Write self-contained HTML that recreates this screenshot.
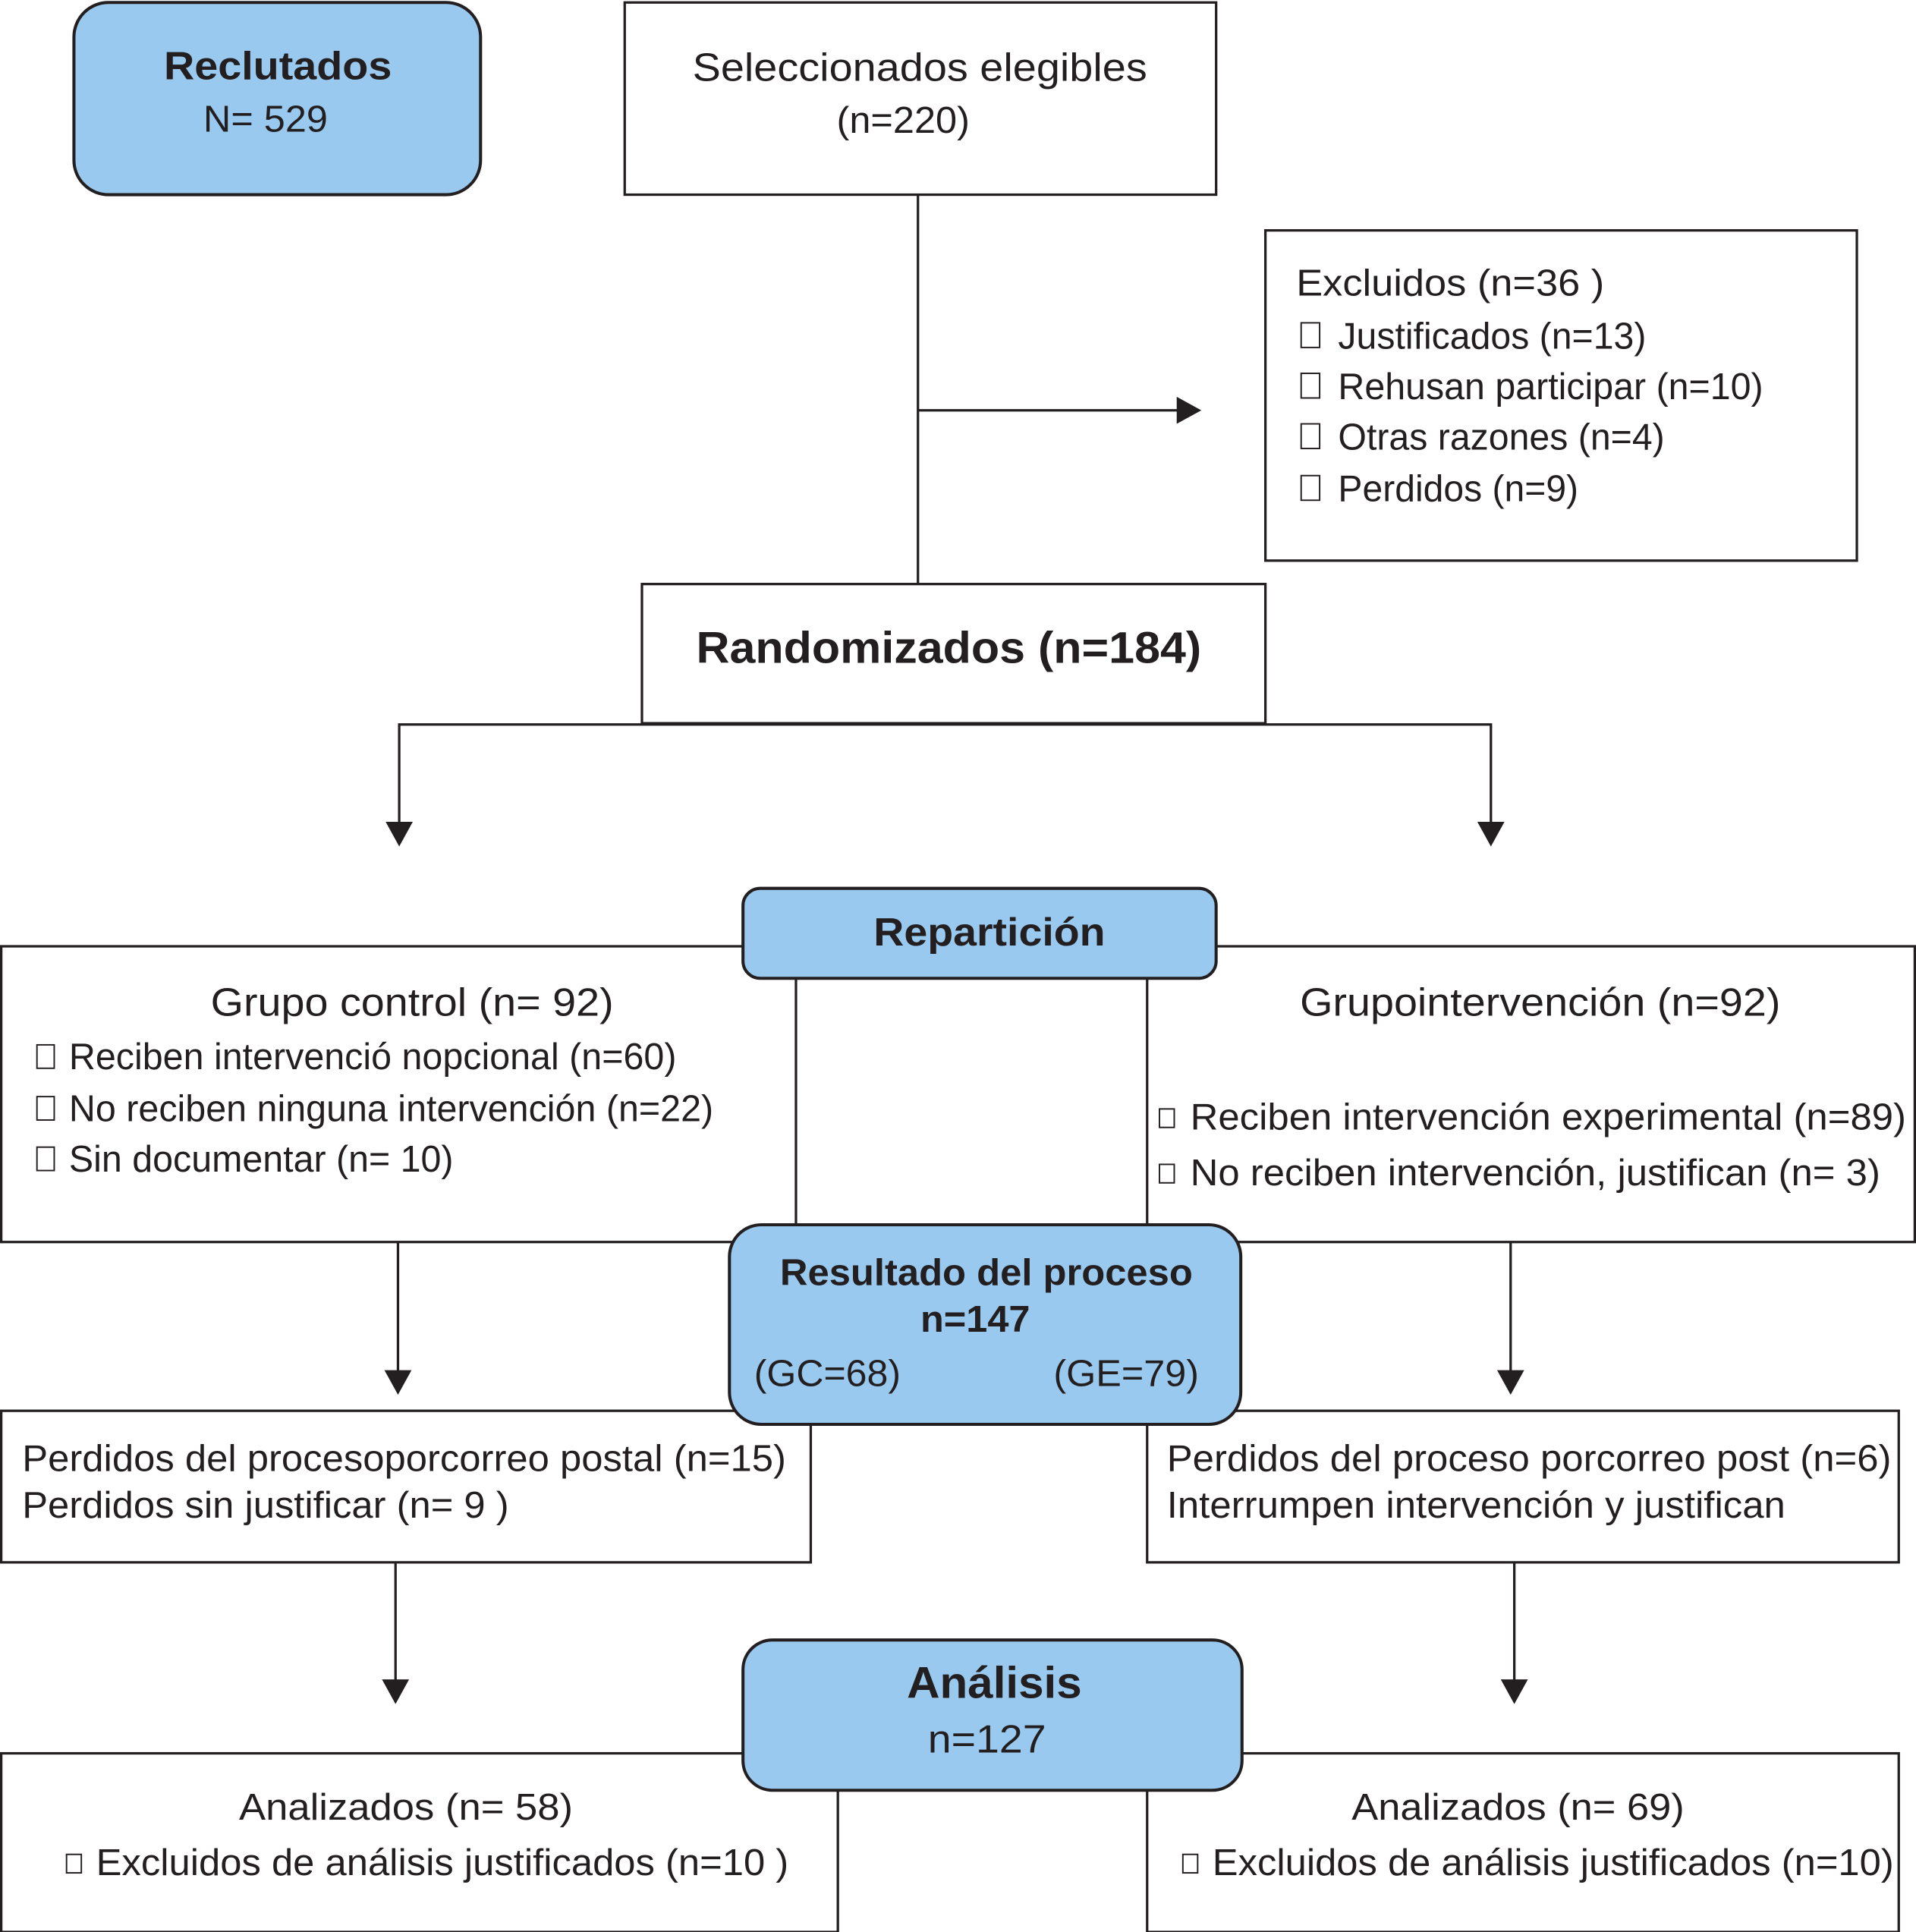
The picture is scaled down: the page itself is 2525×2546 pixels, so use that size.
<!DOCTYPE html>
<html><head><meta charset="utf-8"><style>
html,body{margin:0;padding:0;background:#fff;}
svg{display:block;}
text{font-family:"Liberation Sans",Arial,sans-serif;fill:#231f20;dominant-baseline:central;}
.t{font-size:30px;}
.b{font-weight:bold;}
.box{fill:#fff;stroke:#231f20;stroke-width:2;}
.blue{fill:#99c9ee;stroke:#231f20;stroke-width:2.5;}
.ln{stroke:#231f20;stroke-width:2;fill:none;}
.sq{fill:none;stroke:#231f20;stroke-width:1.2;}
</style></head><body>
<svg width="2525" height="2546" viewBox="0 0 1555 1568" preserveAspectRatio="none" xmlns="http://www.w3.org/2000/svg">
<rect class="box" x="507" y="2" width="480" height="156"/>
<text class="t" x="562" y="55" textLength="369" lengthAdjust="spacingAndGlyphs" style="font-size:32px">Seleccionados elegibles</text>
<text class="t" x="679" y="98" textLength="108" lengthAdjust="spacingAndGlyphs">(n=220)</text>
<line class="ln" x1="745" y1="158" x2="745" y2="474"/>
<line class="ln" x1="745" y1="333" x2="958" y2="333"/>
<polygon points="955,322 975,333 955,344" fill="#231f20"/>
<rect class="box" x="1027" y="187" width="480" height="268"/>
<text class="t" x="1052" y="230" textLength="250" lengthAdjust="spacingAndGlyphs">Excluidos  (n=36 )</text>
<rect class="sq" x="1056" y="262" width="15" height="20"/><text class="t" x="1086" y="273" textLength="250" lengthAdjust="spacingAndGlyphs">Justificados (n=13)</text>
<rect class="sq" x="1056" y="303" width="15" height="20"/><text class="t" x="1086" y="314" textLength="345" lengthAdjust="spacingAndGlyphs">Rehusan participar (n=10)</text>
<rect class="sq" x="1056" y="344" width="15" height="20"/><text class="t" x="1086" y="355" textLength="265" lengthAdjust="spacingAndGlyphs">Otras razones (n=4)</text>
<rect class="sq" x="1056" y="386" width="15" height="20"/><text class="t" x="1086" y="397" textLength="195" lengthAdjust="spacingAndGlyphs">Perdidos (n=9)</text>
<rect class="box" x="521" y="474" width="506" height="113"/>
<text class="t b" x="565" y="526" textLength="410" lengthAdjust="spacingAndGlyphs" style="font-size:36px">Randomizados (n=184)</text>
<polyline class="ln" points="324,670 324,588 1210,588 1210,670"/>
<polygon points="313,667 335,667 324,687" fill="#231f20"/>
<polygon points="1199,667 1221,667 1210,687" fill="#231f20"/>
<rect class="box" x="1" y="768" width="645" height="240"/>
<text class="t" x="171" y="814" textLength="327" lengthAdjust="spacingAndGlyphs" style="font-size:32px">Grupo control (n= 92)</text>
<rect class="sq" x="30" y="848" width="14" height="19"/><text class="t" x="56" y="858" textLength="493" lengthAdjust="spacingAndGlyphs">Reciben intervenció nopcional (n=60)</text>
<rect class="sq" x="30" y="890" width="14" height="19"/><text class="t" x="56" y="900" textLength="523" lengthAdjust="spacingAndGlyphs">No reciben ninguna intervención (n=22)</text>
<rect class="sq" x="30" y="931" width="14" height="19"/><text class="t" x="56" y="941" textLength="312" lengthAdjust="spacingAndGlyphs">Sin documentar (n= 10)</text>
<rect class="box" x="931" y="768" width="623" height="240"/>
<text class="t" x="1055" y="814" textLength="390" lengthAdjust="spacingAndGlyphs" style="font-size:32px">Grupointervención (n=92)</text>
<rect class="sq" x="941" y="900" width="12" height="15"/><text class="t" x="966" y="907" textLength="581" lengthAdjust="spacingAndGlyphs">Reciben intervención experimental (n=89)</text>
<rect class="sq" x="941" y="945" width="12" height="15"/><text class="t" x="966" y="952" textLength="560" lengthAdjust="spacingAndGlyphs">No reciben intervención, justifican (n= 3)</text>
<line class="ln" x1="323" y1="1008" x2="323" y2="1115"/>
<polygon points="312,1112 334,1112 323,1132" fill="#231f20"/>
<line class="ln" x1="1226" y1="1008" x2="1226" y2="1115"/>
<polygon points="1215,1112 1237,1112 1226,1132" fill="#231f20"/>
<rect class="box" x="1" y="1145" width="657" height="123"/>
<text class="t" x="18" y="1184" textLength="620" lengthAdjust="spacingAndGlyphs">Perdidos del procesoporcorreo postal (n=15)</text>
<text class="t" x="18" y="1222" textLength="395" lengthAdjust="spacingAndGlyphs">Perdidos sin justificar (n= 9 )</text>
<rect class="box" x="931" y="1145" width="610" height="123"/>
<text class="t" x="947" y="1184" textLength="588" lengthAdjust="spacingAndGlyphs">Perdidos del proceso porcorreo post (n=6)</text>
<text class="t" x="947" y="1222" textLength="502" lengthAdjust="spacingAndGlyphs">Interrumpen intervención y justifican</text>
<line class="ln" x1="321" y1="1268" x2="321" y2="1366"/>
<polygon points="310,1363 332,1363 321,1383" fill="#231f20"/>
<line class="ln" x1="1229" y1="1268" x2="1229" y2="1366"/>
<polygon points="1218,1363 1240,1363 1229,1383" fill="#231f20"/>
<rect class="box" x="1" y="1423" width="679" height="145"/>
<text class="t" x="194" y="1467" textLength="271" lengthAdjust="spacingAndGlyphs">Analizados  (n= 58)</text>
<rect class="sq" x="54" y="1505" width="12" height="15"/><text class="t" x="78" y="1512" textLength="562" lengthAdjust="spacingAndGlyphs">Excluidos de análisis justificados (n=10 )</text>
<rect class="box" x="931" y="1423" width="610" height="145"/>
<text class="t" x="1097" y="1467" textLength="270" lengthAdjust="spacingAndGlyphs">Analizados  (n= 69)</text>
<rect class="sq" x="960" y="1505" width="12" height="15"/><text class="t" x="984" y="1512" textLength="553" lengthAdjust="spacingAndGlyphs">Excluidos de análisis justificados (n=10)</text>
<rect class="blue" x="60" y="2" width="330" height="156" rx="28"/>
<text class="t b" x="133" y="54" textLength="185" lengthAdjust="spacingAndGlyphs" style="font-size:32px">Reclutados</text>
<text class="t" x="165" y="97" textLength="101" lengthAdjust="spacingAndGlyphs">N= 529</text>
<rect class="blue" x="603" y="721" width="384" height="73" rx="14"/>
<text class="t b" x="709" y="757" textLength="188" lengthAdjust="spacingAndGlyphs" style="font-size:32px">Repartición</text>
<rect class="blue" x="592" y="994" width="415" height="162" rx="26"/>
<text class="t b" x="633" y="1033" textLength="335" lengthAdjust="spacingAndGlyphs">Resultado del proceso</text>
<text class="t b" x="747" y="1071" textLength="89" lengthAdjust="spacingAndGlyphs">n=147</text>
<text class="t" x="612" y="1115" textLength="119" lengthAdjust="spacingAndGlyphs">(GC=68)</text>
<text class="t" x="855" y="1115" textLength="118" lengthAdjust="spacingAndGlyphs">(GE=79)</text>
<rect class="blue" x="603" y="1331" width="405" height="122" rx="24"/>
<text class="t b" x="736" y="1366" textLength="142" lengthAdjust="spacingAndGlyphs" style="font-size:36px">Análisis</text>
<text class="t" x="753" y="1412" textLength="96" lengthAdjust="spacingAndGlyphs" style="font-size:32px">n=127</text>
</svg>
</body></html>
